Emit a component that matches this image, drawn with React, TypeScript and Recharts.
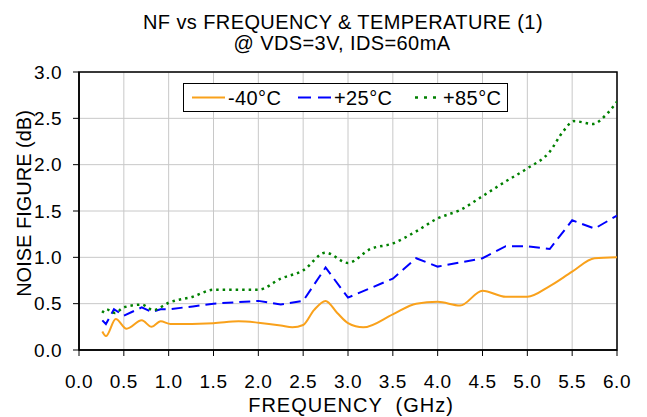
import React from 'react';
import { LineChart, Line, XAxis, YAxis, CartesianGrid, ReferenceArea } from 'recharts';

// frequency (GHz) and noise figure (dB), one pair of arrays per temperature
const freqCold = [0.26, 0.3, 0.41, 0.53, 0.7, 0.81, 0.91, 1.02, 1.5, 1.78, 2.0, 2.25, 2.38, 2.5, 2.62, 2.75, 2.88, 3.0, 3.17, 3.5, 3.76, 4.0, 4.25, 4.5, 4.76, 5.0, 5.25, 5.5, 5.75, 6.0];
const nfCold = [0.2, 0.15, 0.335, 0.23, 0.32, 0.25, 0.31, 0.28, 0.29, 0.31, 0.295, 0.265, 0.245, 0.27, 0.43, 0.53, 0.4, 0.29, 0.245, 0.385, 0.5, 0.52, 0.48, 0.64, 0.575, 0.575, 0.69, 0.845, 0.99, 1.0];

const freqRoom = [0.26, 0.3, 0.39, 0.5, 0.7, 0.81, 0.91, 1.0, 1.27, 1.5, 2.0, 2.25, 2.5, 2.75, 3.0, 3.5, 3.76, 4.0, 4.5, 4.76, 5.0, 5.25, 5.5, 5.75, 6.0];
const nfRoom = [0.32, 0.28, 0.44, 0.37, 0.46, 0.41, 0.44, 0.44, 0.47, 0.5, 0.53, 0.49, 0.53, 0.89, 0.565, 0.77, 0.99, 0.9, 0.99, 1.12, 1.12, 1.09, 1.4, 1.31, 1.45];

const freqHot = [0.26, 0.3, 0.4, 0.5, 0.7, 0.83, 1.0, 1.27, 1.5, 1.78, 2.0, 2.25, 2.5, 2.75, 3.0, 3.25, 3.5, 3.76, 4.0, 4.25, 4.5, 4.76, 5.0, 5.25, 5.4, 5.52, 5.73, 5.88, 6.0];
const nfHot = [0.4, 0.44, 0.4, 0.46, 0.49, 0.43, 0.51, 0.575, 0.65, 0.65, 0.65, 0.77, 0.86, 1.05, 0.94, 1.09, 1.15, 1.28, 1.42, 1.51, 1.66, 1.82, 1.96, 2.14, 2.36, 2.47, 2.44, 2.54, 2.68];

const seriesNames = ['-40°C', '+25°C', '+85°C'];
const xTicks = [0, 0.5, 1, 1.5, 2, 2.5, 3, 3.5, 4, 4.5, 5, 5.5, 6];
const yTicks = [0, 0.5, 1, 1.5, 2, 2.5, 3];

const toRows = (f: number[], v: number[]) => f.map((x, i) => ({ f: x, nf: v[i] }));

const font = '"Liberation Sans", Arial, Helvetica, sans-serif';
const orange = '#F9A11B';
const blue = '#0000FF';
const green = '#008000';

// legend drawn as its own box so it does not take space from the plot
function LegendBox() {
  const text: React.CSSProperties = { position: 'absolute', top: 2, fontSize: 20, letterSpacing: 0.4, color: '#000', lineHeight: '24px' };
  return (
    <div style={{ position: 'absolute', left: 183, top: 83, boxSizing: 'border-box', width: 325, height: 29, border: '1px solid #000', background: '#fff', fontFamily: font }}>
      <svg width={325} height={27} style={{ position: 'absolute', left: 0, top: 0 }}>
        <line x1={8} x2={41} y1={13.5} y2={13.5} stroke={orange} strokeWidth={2} />
        <line x1={114} x2={147} y1={13.5} y2={13.5} stroke={blue} strokeWidth={2} strokeDasharray="13 7" />
        <line x1={231} x2={252} y1={13.5} y2={13.5} stroke={green} strokeWidth={2.5} strokeDasharray="3 6" />
      </svg>
      <span style={{ ...text, left: 44 }}>{seriesNames[0]}</span>
      <span style={{ ...text, left: 150 }}>{seriesNames[1]}</span>
      <span style={{ ...text, left: 259 }}>{seriesNames[2]}</span>
    </div>
  );
}

export default function App() {
  const tickStyle = { fontSize: 19, fill: '#000', fontFamily: font, letterSpacing: 0.5 };
  return (
    <div style={{ position: 'absolute', left: 0, top: 0, width: 647, height: 417, background: '#fff' }}>
      <LineChart width={647} height={417} margin={{ top: 72, right: 30, bottom: 0, left: 0 }}>
        <CartesianGrid stroke="#c8c8c8" strokeWidth={1} />
        <XAxis
          type="number"
          dataKey="f"
          domain={[0, 6]}
          ticks={xTicks}
          tickFormatter={(v: number) => v.toFixed(1)}
          height={67}
          tickSize={6}
          tickMargin={19}
          tick={tickStyle}
          axisLine={{ stroke: '#000', strokeWidth: 1.5 }}
          tickLine={{ stroke: '#000', strokeWidth: 1 }}
          allowDataOverflow
        />
        <YAxis
          type="number"
          domain={[0, 3]}
          ticks={yTicks}
          tickFormatter={(v: number) => v.toFixed(1)}
          width={79}
          tickSize={6}
          tickMargin={11}
          tick={tickStyle}
          axisLine={{ stroke: '#000', strokeWidth: 1.5 }}
          tickLine={{ stroke: '#000', strokeWidth: 1 }}
          allowDataOverflow
        />
        <ReferenceArea x1={0} x2={6} y1={0} y2={3} stroke="#000" strokeWidth={1.5} fill="none" fillOpacity={0} ifOverflow="visible" />
        <Line data={toRows(freqCold, nfCold)} dataKey="nf" name={seriesNames[0]} type="monotone" stroke={orange} strokeWidth={2} dot={false} activeDot={false} isAnimationActive={false} />
        <Line data={toRows(freqRoom, nfRoom)} dataKey="nf" name={seriesNames[1]} type="linear" stroke={blue} strokeWidth={2} strokeDasharray="11 6" dot={false} activeDot={false} isAnimationActive={false} />
        <Line data={toRows(freqHot, nfHot)} dataKey="nf" name={seriesNames[2]} type="monotone" stroke={green} strokeWidth={2.5} strokeDasharray="2.5 4" dot={false} activeDot={false} isAnimationActive={false} />
      </LineChart>
      <LegendBox />
      <svg width={647} height={417} style={{ position: 'absolute', left: 0, top: 0, pointerEvents: 'none' }}>
        <g fontFamily={font} fill="#000">
          <text x={343} y={28.5} fontSize={20} textAnchor="middle" letterSpacing={0.4}>NF vs FREQUENCY &amp; TEMPERATURE (1)</text>
          <text x={342} y={50} fontSize={20} textAnchor="middle" letterSpacing={0.4}>@ VDS=3V, IDS=60mA</text>
          <text x={351} y={412} fontSize={20} textAnchor="middle" letterSpacing={1} style={{ whiteSpace: 'pre' }}>FREQUENCY  (GHz)</text>
          <text x={30.5} y={203.5} fontSize={20} textAnchor="middle" transform="rotate(-90 30.5 203.5)">NOISE FIGURE (dB)</text>
        </g>
      </svg>
    </div>
  );
}
